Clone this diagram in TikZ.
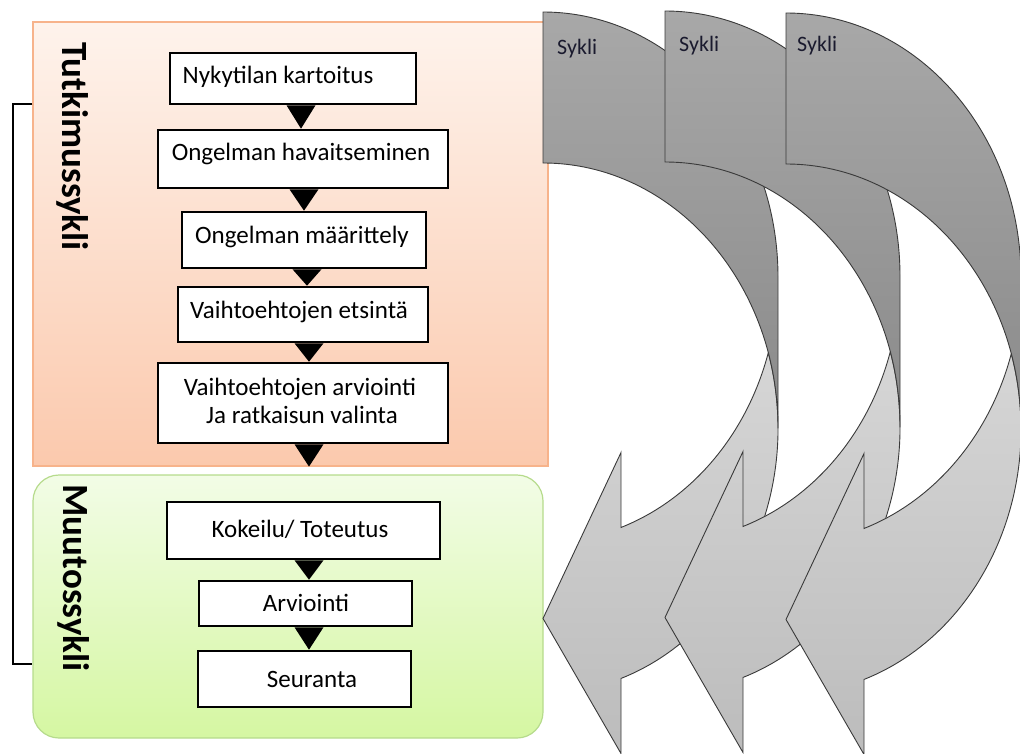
\documentclass[tikz,border=0pt]{standalone}
\usepackage{fontspec}
\setmainfont{Carlito}
\usetikzlibrary{calc}
\definecolor{orTop}{HTML}{FEF3EC}
\definecolor{orBot}{HTML}{FBC9AD}
\definecolor{orLine}{HTML}{F7B38B}
\definecolor{grTop}{HTML}{F2FCE6}
\definecolor{grBot}{HTML}{D5F7A2}
\definecolor{grLine}{HTML}{B6DB8C}
\definecolor{dkTop}{HTML}{A8A8A8}
\definecolor{dkBot}{HTML}{8A8A8A}
\definecolor{ltTop}{HTML}{D6D6D6}
\definecolor{ltBot}{HTML}{BCBCBC}
\definecolor{arrLine}{HTML}{3A3A3A}
\definecolor{syText}{HTML}{1A1A2E}
\newcommand\cyclearrow[3]{% #1 left x, #2 top y, #3 name
  \draw[lightpart] (#1,#2+606.5) -- (#1+78,#2+440.5) -- (#1+78,#2+515.46)
    arc[start angle=70.615,end angle=16.537,x radius=235,y radius=265.25]
    arc[start angle=-16.537,end angle=70.615,x radius=235,y radius=265.25]
    -- (#1+78,#2+741.5) -- cycle;
  \draw[darkpart] (#1,#2) arc[start angle=-90,end angle=0,x radius=235,y radius=265.25]
    -- ++(0,151) arc[start angle=0,end angle=-90,x radius=235,y radius=265.25] -- cycle;
}
\newcommand\downtri[3]{%
  \fill[tri] ($(#1.south -| #3)+(-14.5,0)$) -- ($(#1.south -| #3)+(14.5,0)$) -- (#2.north -| #3) -- cycle;}
\begin{document}
\begin{tikzpicture}[x=1pt,y=-1pt,
  box/.style={draw=black, line width=2.6pt, fill=white, rectangle, inner sep=0pt},
  lbl/.style={font=\fontsize{25}{28}\selectfont, inner sep=0pt, anchor=base},
  ttl/.style={font=\fontsize{37}{40}\selectfont\bfseries, inner sep=0pt, rotate=-90},
  tri/.style={fill=black},
  darkpart/.style={draw=arrLine, line width=0.9pt, top color=dkTop, bottom color=dkBot},
  lightpart/.style={draw=arrLine, line width=0.9pt, top color=ltTop, bottom color=ltBot},
  sy/.style={font=\fontsize{22}{24}\selectfont, inner sep=0pt, anchor=base west, text=syText}]
\useasboundingbox (0,0) rectangle (1020,753);
% containers
\node[rectangle, draw=orLine, line width=1.2pt, top color=orTop, bottom color=orBot,
  minimum width=515pt, minimum height=444pt, inner sep=0pt] (orng) at (290.5,244) {};
\node[rectangle, rounded corners=26pt, draw=grLine, line width=1.2pt, top color=grTop, bottom color=grBot,
  minimum width=510pt, minimum height=263pt, inner sep=0pt] (grn) at (288,606.5) {};
% bracket
\coordinate (bt) at (13,104);
\coordinate (bb) at (13,664);
\draw[line width=2.4pt] (orng.west |- bt) -- (bt) -- (bb) -- (grn.west |- bb);
% titles
\node[ttl] (tt) at (73,146.5) {Tutkimussykli};
\node[ttl] (mt) at (74,578) {Muutossykli};
% boxes
\node[box, minimum width=246pt, minimum height=51pt] (b1) at (293,78.5) {};
\node[box, minimum width=290pt, minimum height=58pt] (b2) at (303,159) {};
\node[box, minimum width=244pt, minimum height=56pt] (b3) at (304,240) {};
\node[box, minimum width=250pt, minimum height=55pt] (b4) at (303,314.5) {};
\node[box, minimum width=290pt, minimum height=80pt] (b5) at (303,403) {};
\node[box, minimum width=273pt, minimum height=57pt] (b6) at (303.5,530.5) {};
\node[box, minimum width=213pt, minimum height=45pt] (b7) at (305.5,603.5) {};
\node[box, minimum width=213pt, minimum height=56pt] (b8) at (304.5,679) {};
% texts
\node[lbl] (l1) at (278,83) {Nykytilan kartoitus};
\node[lbl] (l2) at (301,160) {Ongelman havaitseminen};
\node[lbl] (l3) at (302,243.5) {Ongelman määrittely};
\node[lbl] (l4) at (299,318) {Vaihtoehtojen etsintä};
\node[lbl] (l5a) at (300,395) {Vaihtoehtojen arviointi};
\node[lbl] (l5b) at (302,423) {Ja ratkaisun valinta};
\node[lbl] (l6) at (300,537) {Kokeilu/ Toteutus};
\node[lbl] (l7) at (306,611) {Arviointi};
\node[lbl] (l8) at (312,687) {Seuranta};
% triangles
\coordinate (x1) at (301,0);
\coordinate (x2) at (304,0);
\coordinate (x3) at (307,0);
\coordinate (x4) at (309,0);
\coordinate (x5) at (309,0);
\coordinate (x6) at (309,0);
\coordinate (x7) at (309,0);
\downtri{b1}{b2}{x1}
\downtri{b2}{b3}{x2}
\downtri{b3}{b4}{x3}
\downtri{b4}{b5}{x4}
\fill[tri] ($(b5.south -| x5)+(-14.5,0)$) -- ($(b5.south -| x5)+(14.5,0)$) -- (orng.south -| x5) -- cycle;
\downtri{b6}{b7}{x6}
\downtri{b7}{b8}{x7}
% cycle arrows
\cyclearrow{543}{12}{a1}
\node[sy] (s1) at (557,54) {Sykli};
\cyclearrow{665}{11}{a2}
\node[sy] (s2) at (679,51) {Sykli};
\cyclearrow{786}{13}{a3}
\node[sy] (s3) at (797,51) {Sykli};
\end{tikzpicture}
\end{document}
